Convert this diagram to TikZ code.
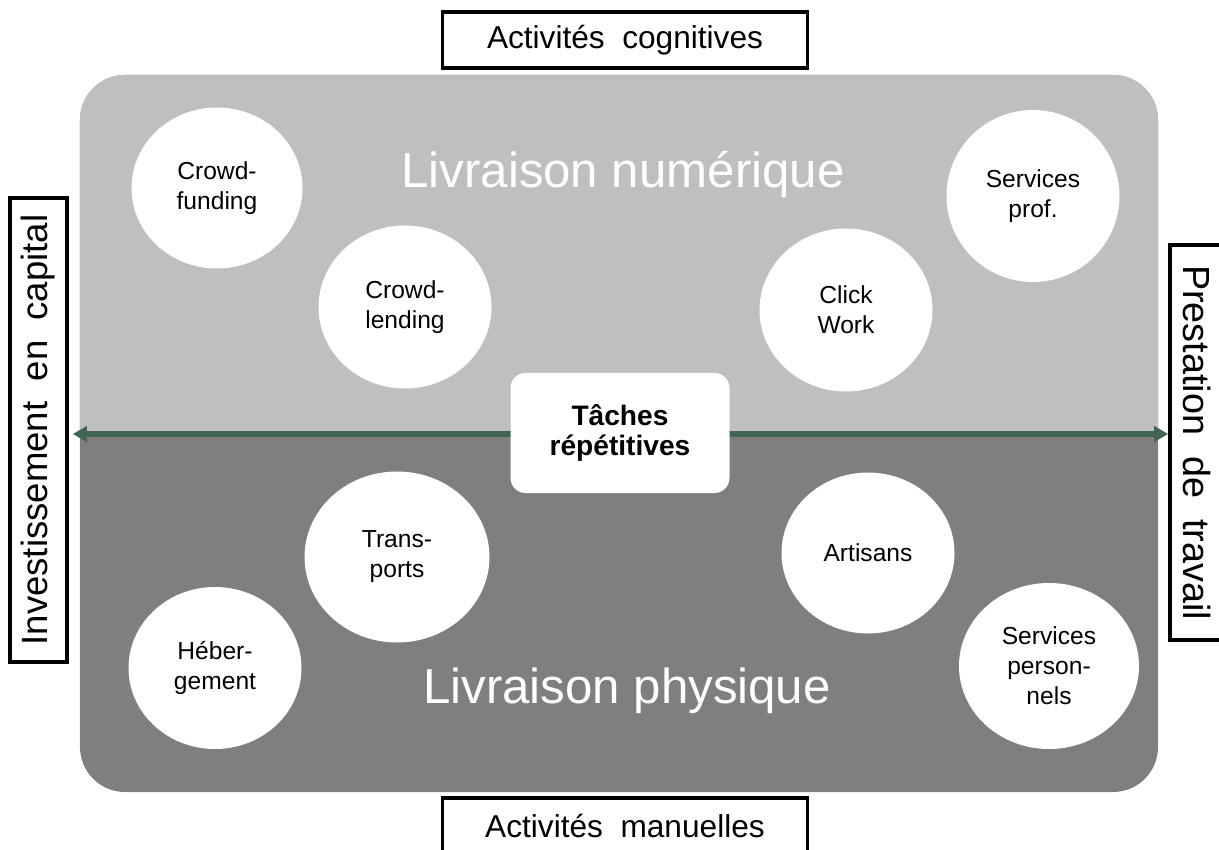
\documentclass[tikz,border=0pt]{standalone}
\usepackage{fontspec}
\setmainfont{Liberation Sans}
\usetikzlibrary{positioning, arrows.meta, shapes.geometric}
\definecolor{lightgrey}{HTML}{BFBFBF}
\definecolor{darkgrey}{HTML}{7F7F7F}
\definecolor{axisgreen}{RGB}{66, 100, 82}

\begin{document}
\begin{tikzpicture}[x=0.2mm, y=-0.2mm,
    panel/.style={rounded corners=9mm, minimum width=215.6mm, minimum height=143.4mm, inner sep=0pt},
    bubble/.style={ellipse, fill=white, inner sep=0pt, align=center,
                minimum width=34.6mm, minimum height=32.6mm, font=\fontsize{14}{17}\selectfont},
    lblbox/.style={draw=black, line width=2pt, fill=white,
                minimum width=73mm, minimum height=11.2mm, font=\fontsize{18}{22}\selectfont},
    sidebox/.style={draw=black, line width=2pt, fill=white, inner sep=0pt,
                font=\fontsize{21.5}{26}\selectfont},
    zone/.style={text=white, anchor=base, font=\fontsize{28}{34}\selectfont},
    task/.style={fill=white, rounded corners=3mm, minimum width=43.8mm, minimum height=24mm,
                align=center, font=\bfseries\fontsize{16}{17}\selectfont},
    axis/.style={{Triangle[length=2.8mm, width=3mm]}-{Triangle[length=2.8mm, width=3mm]},
                line width=3pt, color=axisgreen},
  ]
    \useasboundingbox (0,0) rectangle (1219,850);

    %% panel: light upper half, dark lower half
    \node[panel, fill=darkgrey] (panel) at (619,433.5) {};
    \begin{scope}
      \clip (panel.north west) rectangle (panel.east);
      \node[panel, fill=lightgrey] at (panel) {};
    \end{scope}

    \node[zone] (numer) at (623,188) {Livraison numérique};
    \node[zone] (phys)  at (627,703) {Livraison physique};

    %% the four labels round the panel
    \node[lblbox] (cogn) at (625,40)  {Activités~ cognitives};
    \node[lblbox] (manu) at (625,826) {Activités~ manuelles};
    \node[sidebox, minimum width=11.4mm, minimum height=92.8mm,
          font=\fontsize{20.8}{25}\selectfont] (invest) at (38.5,430)
      {\rotatebox{90}{Investissement~ en~ capital}};
    \node[sidebox, minimum width=10.8mm, minimum height=79mm] (prest) at (1197,442.5)
      {\rotatebox{-90}{Prestation~ de~ travail}};

    % horizontal axis, behind the middle box
    \coordinate (axisy) at (620,434);
    \draw[axis, shorten <=0.8mm] (invest.east |- axisy) -- (prest.west |- axisy);

    %% platforms
    \node[bubble, minimum width=34.2mm, minimum height=32.2mm] (cfund) at (217,188) {Crowd-\\funding};
    \node[bubble] (clend) at (405,307) {Crowd-\\lending};
    \node[bubble] (click) at (846,310) {Click\\Work};
    \node[bubble, minimum height=34.4mm] (sprof) at (1033,196) {Services\\prof.};
    \node[bubble, minimum width=37mm, minimum height=34.2mm] (trans) at (397,557) {Trans-\\ports};
    \node[bubble, minimum height=32.2mm] (artis) at (868,553) {Artisans};
    \node[bubble, minimum height=32.4mm] (heber) at (215,668) {Héber-\\gement};
    \node[bubble, minimum width=36mm, minimum height=33.2mm] (sperso) at (1049,666)
      {Services\\person-\\nels};

    \node[task] (mid) at (620,433) {Tâches\\répétitives};
\end{tikzpicture}
\end{document}
